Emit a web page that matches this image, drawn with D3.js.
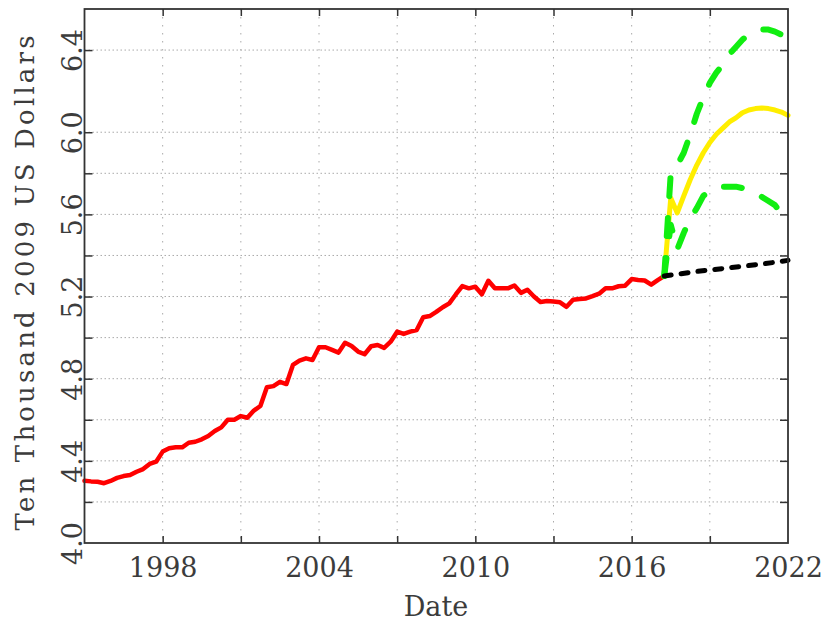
<!DOCTYPE html>
<html><head><meta charset="utf-8">
<script src="https://cdn.jsdelivr.net/npm/d3@7"></script>
<style>body{margin:0;background:#fff}</style>
</head><body>
<svg id="c" width="827" height="622"></svg>
<script>
// ---- data ----
const redStart = 1995, redStep = 0.25;
const redValues = [
 4.303,4.300,4.298,4.291,4.302,4.317,4.326,4.331,4.347,4.360,
 4.385,4.396,4.445,4.461,4.466,4.466,4.488,4.493,4.505,4.521,
 4.545,4.563,4.600,4.600,4.618,4.610,4.645,4.667,4.758,4.764,
 4.785,4.774,4.867,4.888,4.899,4.891,4.953,4.953,4.940,4.927,
 4.975,4.959,4.932,4.919,4.958,4.964,4.950,4.980,5.029,5.018,
 5.029,5.037,5.099,5.105,5.125,5.148,5.167,5.210,5.251,5.240,
 5.248,5.211,5.277,5.240,5.240,5.240,5.254,5.218,5.233,5.200,
 5.173,5.178,5.176,5.172,5.150,5.184,5.188,5.191,5.202,5.214,
 5.240,5.240,5.250,5.253,5.285,5.281,5.278,5.258,5.280,5.300
];
const fcDates = [2017.25,2017.5,2017.75,2018,2018.25,2018.5,2018.75,2019,2019.25,2019.5,
                 2019.75,2020,2020.25,2020.5,2020.75,2021,2021.25,2021.5,2021.75,2022];
const upperValues = [5.30,5.80,5.84,5.90,5.99,6.09,6.17,6.24,6.29,6.33,
                     6.38,6.415,6.45,6.478,6.49,6.50,6.50,6.49,6.475,6.455];
const forecastValues = [5.30,5.68,5.607,5.69,5.77,5.84,5.90,5.95,5.99,6.02,
                        6.05,6.07,6.095,6.108,6.115,6.118,6.115,6.108,6.098,6.082];
const lowerValues = [5.30,5.55,5.43,5.51,5.58,5.63,5.69,5.715,5.73,5.735,
                     5.735,5.735,5.728,5.718,5.705,5.685,5.665,5.645,5.605,5.567];
const trendDates = [2017.25,2018.5,2019.75,2021,2022];
const trendValues = [5.300,5.322,5.340,5.358,5.376];

const xTicks = [1998,2001,2004,2007,2010,2013,2016,2019];
const xLabels = [1998,2004,2010,2016,2022];
const yTicks = [4.2,4.4,4.6,4.8,5.0,5.2,5.4,5.6,5.8,6.0,6.4];
const yLabels = [4.0,4.4,4.8,5.2,5.6,6.0,6.4];

// ---- layout ----
const L = 84.5, R = 788, T = 9, B = 543;
const svg = d3.select('#c');
const x = d3.scaleLinear().domain([1995, 2022]).range([L, R]);
const y = d3.scaleLinear().domain([4.0, 6.6]).range([B, T]);
const font = '"DejaVu Serif", serif';
const textCol = '#3c3c3c';
const fs = 27;

// grid
const grid = svg.append('g');
grid.selectAll('line.v').data(xTicks).join('line')
  .attr('x1', d => x(d)).attr('x2', d => x(d)).attr('y1', T).attr('y2', B)
  .attr('stroke', '#aaa').attr('stroke-width', 1).attr('stroke-dasharray', '1.5,6.5');
grid.selectAll('line.h').data(yTicks).join('line')
  .attr('x1', L).attr('x2', R).attr('y1', d => y(d)).attr('y2', d => y(d))
  .attr('stroke', '#aaa').attr('stroke-width', 1).attr('stroke-dasharray', '1.5,2.5');

// series
const redData = redValues.map((v, i) => [redStart + i * redStep, v]);
const line = d3.line().x(d => x(d[0])).y(d => y(d[1]));
const plot = svg.append('g');
plot.append('path').datum(redData).attr('d', line)
  .attr('fill', 'none').attr('stroke', '#ff0000').attr('stroke-width', 4.5)
  .attr('stroke-linejoin', 'round').attr('stroke-linecap', 'round');
plot.append('path').datum(fcDates.map((d, i) => [d, forecastValues[i]])).attr('d', line)
  .attr('fill', 'none').attr('stroke', '#ffee00').attr('stroke-width', 5)
  .attr('stroke-linejoin', 'round').attr('stroke-linecap', 'round');
[upperValues, lowerValues].forEach(vals => {
  plot.append('path').datum(fcDates.map((d, i) => [d, vals[i]])).attr('d', line)
    .attr('fill', 'none').attr('stroke', '#11ee11').attr('stroke-width', 6)
    .attr('stroke-linejoin', 'round').attr('stroke-linecap', 'round')
    .attr('stroke-dasharray', '18,22');
});
plot.append('path').datum(trendDates.map((d, i) => [d, trendValues[i]])).attr('d', line)
  .attr('fill', 'none').attr('stroke', '#000').attr('stroke-width', 5)
  .attr('stroke-linecap', 'round').attr('stroke-dasharray', '7,10');

// axes: tick marks on all four sides, pointing inward
const tickAx = (g, axis) => { g.call(axis); g.select('.domain').remove();
  g.selectAll('line').attr('stroke', '#333').attr('stroke-width', 1.5); };
svg.append('g').attr('transform', `translate(0,${B})`)
  .call(g => tickAx(g, d3.axisBottom(x).tickValues(xTicks).tickSize(-7).tickFormat('')));
svg.append('g').attr('transform', `translate(0,${T})`)
  .call(g => tickAx(g, d3.axisTop(x).tickValues(xTicks).tickSize(-7).tickFormat('')));
svg.append('g').attr('transform', `translate(${L},0)`)
  .call(g => tickAx(g, d3.axisLeft(y).tickValues(yTicks).tickSize(-8).tickFormat('')));
svg.append('g').attr('transform', `translate(${R},0)`)
  .call(g => tickAx(g, d3.axisRight(y).tickValues(yTicks).tickSize(-8).tickFormat('')));

// frame
svg.append('rect').attr('x', L).attr('y', T).attr('width', R - L).attr('height', B - T)
  .attr('fill', 'none').attr('stroke', '#333').attr('stroke-width', 1.8);

// tick labels
const xl = svg.append('g').attr('transform', `translate(0,${B})`)
  .call(d3.axisBottom(x).tickValues(xLabels).tickSize(0).tickPadding(0).tickFormat(d3.format('d')));
xl.select('.domain').remove();
xl.selectAll('text').attr('y', 34).attr('dy', 0)
  .attr('font-family', font).attr('font-size', fs).attr('fill', textCol);

const yl = svg.append('g').attr('transform', `translate(${L},0)`)
  .call(d3.axisLeft(y).tickValues(yLabels).tickSize(0).tickFormat(d3.format('.1f')));
yl.select('.domain').remove();
yl.selectAll('.tick text')
  .attr('x', 0).attr('dy', 0).attr('text-anchor', 'middle')
  .attr('transform', 'translate(-2.5,0) rotate(-90)')
  .attr('y', 0)
  .attr('font-family', font).attr('font-size', fs).attr('fill', textCol);

// titles
svg.append('text').attr('x', 436).attr('y', 616).attr('text-anchor', 'middle')
  .attr('font-family', font).attr('font-size', fs).attr('fill', textCol).text('Date');
svg.append('text')
  .attr('transform', 'translate(34,283) rotate(-90)')
  .attr('text-anchor', 'middle')
  .attr('textLength', 495).attr('lengthAdjust', 'spacing')
  .attr('font-family', font).attr('font-size', 26).attr('fill', textCol)
  .text('Ten Thousand 2009 US Dollars');
</script>
</body></html>
